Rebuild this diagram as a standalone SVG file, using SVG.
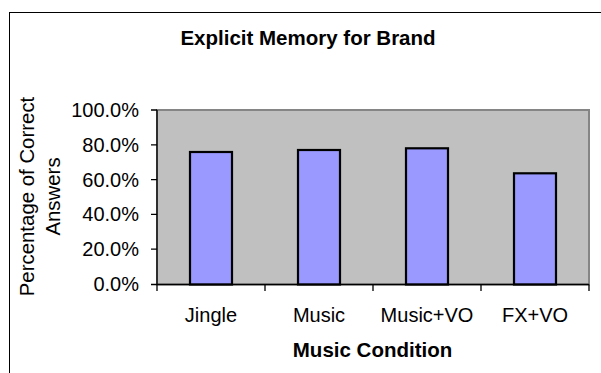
<svg xmlns="http://www.w3.org/2000/svg" width="601" height="373" viewBox="0 0 601 373">
<style>
text{font-family:"Liberation Sans",Arial,Helvetica,sans-serif;font-size:20px;fill:#000}
.b{font-weight:bold;font-size:20.5px}
.yt{font-size:20.4px}
.tl{text-anchor:end}
.c{text-anchor:middle}
.bar{fill:#9999FF;stroke:#000;stroke-width:2.2}
.ax{stroke:#000;stroke-width:1.3;fill:none}
</style>
<rect width="601" height="373" fill="#fff"/>
<rect id="frame" x="9.5" y="12.5" width="600" height="400" fill="#fff" stroke="#000" stroke-width="1"/>
<text id="title" class="b c" x="308" y="44.5">Explicit Memory for Brand</text>
<g id="plot">
<rect x="157" y="110" width="432" height="174.5" fill="#C0C0C0" stroke="#858585" stroke-width="2"/>
</g>
<g id="bars">
<rect id="bar-jingle" class="bar" x="190" y="152" width="42" height="132.5"/>
<rect id="bar-music" class="bar" x="298" y="150" width="42" height="134.5"/>
<rect id="bar-musicvo" class="bar" x="406" y="148.3" width="42" height="136.2"/>
<rect id="bar-fxvo" class="bar" x="514" y="173.3" width="42" height="111.2"/>
</g>
<g id="axes">
<path class="ax" d="M157,110V291M157,284.5H589M151,110H157M151,144.8H157M151,179.6H157M151,214.4H157M151,249.2H157M151,284.5H157M265,284.5V291M373,284.5V291M481,284.5V291M589,284.5V291"/>
</g>
<g id="ylabels">
<text class="tl" x="139" y="117">100.0%</text>
<text class="tl" x="139" y="151.8">80.0%</text>
<text class="tl" x="139" y="186.6">60.0%</text>
<text class="tl" x="139" y="221.4">40.0%</text>
<text class="tl" x="139" y="256.2">20.0%</text>
<text class="tl" x="139" y="291">0.0%</text>
</g>
<g id="xlabels">
<text class="c" x="211" y="321.5">Jingle</text>
<text class="c" x="319" y="321.5">Music</text>
<text class="c" x="427" y="321.5">Music+VO</text>
<text class="c" x="535" y="321.5">FX+VO</text>
</g>
<g id="ytitle">
<text class="c yt" transform="translate(33.5,196.5) rotate(-90)">Percentage of Correct</text>
<text class="c yt" transform="translate(59.5,196.5) rotate(-90)">Answers</text>
</g>
<text id="xtitle" class="b c" x="372.5" y="356.7">Music Condition</text>
</svg>
